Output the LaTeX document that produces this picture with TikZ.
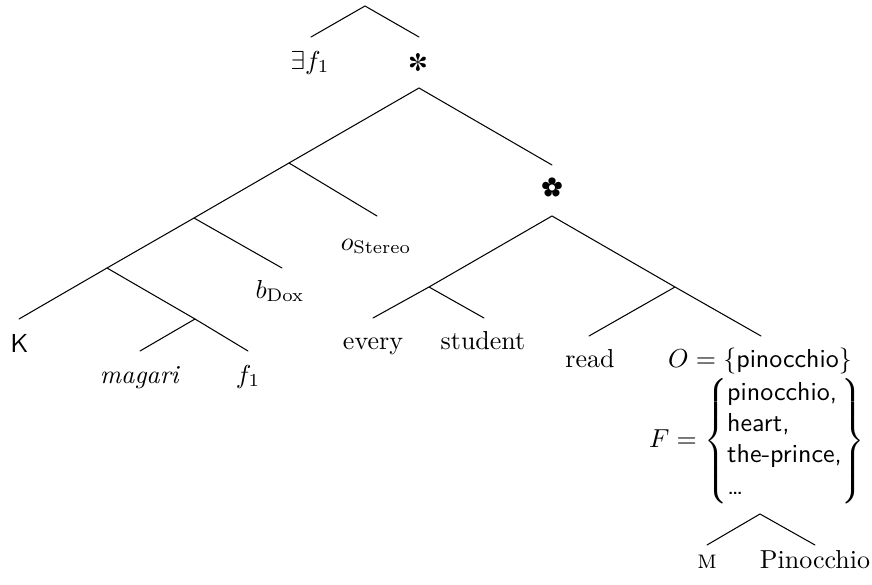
\documentclass[tikz,border=0pt]{standalone}
\usepackage{pifont}
\begin{document}
\begin{tikzpicture}[x=0.3846pt,y=-0.3846pt,
  lbl/.style={anchor=base,inner sep=0pt},
  sym/.style={inner sep=0pt},
  edge/.style={line width=0.4pt,line cap=round}]
\useasboundingbox (0,0) rectangle (872,585);
% top tree
\coordinate (r1) at (365,6);
\coordinate (r1l) at (311,37);
\coordinate (r1r) at (419,37);
\node[lbl] (ex) at (310,69) {$\exists f_1$};
\node[sym] (ast) at (418,62) {\ding{93}};
\draw[edge] (r1l) -- (r1) -- (r1r);
% main tree
\coordinate (r2) at (419,88);
\coordinate (r2r) at (552,165);
\node[sym] (flw) at (552,187) {\ding{95}};
\coordinate (a1) at (289,163);
\coordinate (a1r) at (377,216);
\node[lbl] (ost) at (376,250) {$o_{\mathrm{Stereo}}$};
\coordinate (a2) at (194,218);
\coordinate (a2r) at (282,268);
\node[lbl] (bdox) at (280,298) {$b_{\mathrm{Dox}}$};
\coordinate (a3) at (107,268);
\coordinate (kend) at (19,319);
\node[lbl] (K) at (19.5,352) {\textsf{K}};
\coordinate (a4) at (195,319);
\coordinate (a4l) at (140,351);
\coordinate (a4r) at (248,351);
\node[lbl] (mag) at (140,383) {\textit{magari}};
\node[lbl] (f1) at (248,383) {$f_1$};
\draw[edge] (kend) -- (a3) -- (a2) -- (a1) -- (r2) -- (r2r);
\draw[edge] (a1) -- (a1r);
\draw[edge] (a2) -- (a2r);
\draw[edge] (a3) -- (a4);
\draw[edge] (a4l) -- (a4) -- (a4r);
% flower subtree
\coordinate (s0) at (552,216);
\coordinate (s1) at (429,287);
\coordinate (s1l) at (373,318);
\coordinate (s1r) at (484,318);
\node[lbl] (every) at (373,349) {every};
\node[lbl] (student) at (483,349) {student};
\coordinate (s2) at (675,287);
\coordinate (s2l) at (589,336);
\coordinate (s2r) at (761,336);
\node[lbl] (read) at (590,367) {read};
\node[lbl] (O) at (760,367) {$O=\{\textsf{pinocchio}\}$};
\draw[edge] (s1l) -- (s1) -- (s0) -- (s2) -- (s2r);
\draw[edge] (s1) -- (s1r);
\draw[edge] (s2) -- (s2l);
\node[sym] (F) at (757,441) {$F=\left\{\begin{array}{@{}l@{}}\textsf{pinocchio,}\\ \textsf{heart,}\\ \textsf{the-prince,}\\ \textsf{\ldots}\end{array}\right\}$};
% bottom tree
\coordinate (t0) at (760,514);
\coordinate (tl) at (707,545);
\coordinate (tr) at (815,545);
\node[lbl] (M) at (707,568) {\textsc{m}};
\node[lbl] (pin) at (815,568) {Pinocchio};
\draw[edge] (tl) -- (t0) -- (tr);
\end{tikzpicture}
\end{document}
